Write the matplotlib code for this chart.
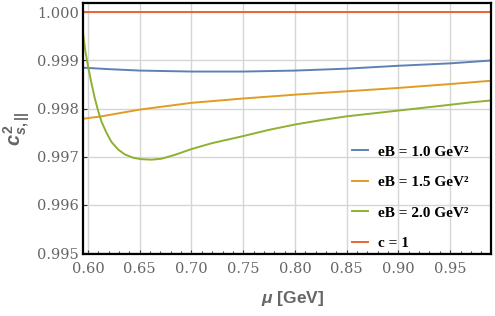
import matplotlib
matplotlib.use("Agg")
import matplotlib.pyplot as plt
from matplotlib.ticker import MultipleLocator, FormatStrFormatter

# values
mu_blue = [0.5953, 0.62, 0.65, 0.70, 0.75, 0.80, 0.85, 0.90, 0.95, 0.99]
cs_blue = [0.99885, 0.99882, 0.99879, 0.99877, 0.99877, 0.99879, 0.99883, 0.99889, 0.99894, 0.99900]

mu_orange = [0.5953, 0.613, 0.65, 0.70, 0.75, 0.80, 0.85, 0.90, 0.95, 0.99]
cs_orange = [0.99779, 0.99784, 0.99798, 0.99812, 0.99821, 0.99829, 0.99836, 0.99843, 0.99851, 0.99858]

mu_green = [0.5953, 0.5975, 0.6001, 0.6033, 0.6065, 0.6098, 0.6130, 0.6178, 0.6226,
            0.6291, 0.6355, 0.6436, 0.6516, 0.6613, 0.6710, 0.6839, 0.70, 0.7193,
            0.75, 0.775, 0.80, 0.825, 0.85, 0.875, 0.90, 0.925, 0.95, 0.97, 0.99]
cs_green = [0.99955, 0.99918, 0.99887, 0.99853, 0.99822, 0.99795, 0.99773, 0.99750, 0.99731,
            0.99715, 0.99705, 0.99698, 0.99695, 0.99694, 0.99696, 0.99704, 0.99716, 0.99728,
            0.99743, 0.99756, 0.99767, 0.99776, 0.99784, 0.99790, 0.99796, 0.99802, 0.99808, 0.99813, 0.99817]

mu_c1 = [0.59, 0.99]
cs_c1 = [1.0, 1.0]

labels = ["eB = 1.0 GeV²", "eB = 1.5 GeV²", "eB = 2.0 GeV²", "c = 1"]
colors = ["#5e81b5", "#e19c24", "#8fb032", "#eb6235"]

plt.rcParams["font.family"] = "DejaVu Serif"
plt.rcParams["mathtext.fontset"] = "custom"
plt.rcParams["mathtext.it"] = "Liberation Sans:bold:italic"
plt.rcParams["mathtext.rm"] = "Liberation Sans:bold"
plt.rcParams["mathtext.bf"] = "Liberation Sans:bold"

fig = plt.figure(figsize=(4.95, 3.16), dpi=100)
ax = fig.add_axes([0.168, 0.196, 0.824, 0.794])

series = [(mu_blue, cs_blue), (mu_orange, cs_orange), (mu_green, cs_green), (mu_c1, cs_c1)]
for (x, y), c, lab in zip(series, colors, labels):
    ax.plot(x, y, color=c, lw=1.4, label=lab, solid_joinstyle="round")

ax.set_xlim(0.5953, 0.9895)
ax.set_ylim(0.99498, 1.00019)

ax.xaxis.set_major_locator(MultipleLocator(0.05))
ax.xaxis.set_minor_locator(MultipleLocator(0.01))
ax.yaxis.set_major_locator(MultipleLocator(0.001))
ax.xaxis.set_major_formatter(FormatStrFormatter("%.2f"))
ax.yaxis.set_major_formatter(FormatStrFormatter("%.3f"))

ax.grid(True, which="major", color="#d6d6d6", lw=1.0)
ax.tick_params(which="both", direction="in", colors="#333333", labelcolor="#666666",
               labelsize=10.5, width=0.8)
ax.tick_params(which="major", length=3)
ax.tick_params(which="minor", length=2)
ax.tick_params(axis="x", pad=6)
ax.tick_params(axis="y", pad=3)

for s in ax.spines.values():
    s.set_color("black")
    s.set_linewidth(1.6)

ax.set_xlabel(r"$\mu$ [GeV]", fontsize=12.5, fontweight="bold", family="Liberation Sans",
              color="#666666", labelpad=5)
ax.xaxis.set_label_coords(0.513, -0.14)
ax.set_ylabel(r"$c_{s,||}^{2}$", fontsize=14.5, color="#666666", labelpad=4)

leg = ax.legend(loc="lower left", bbox_to_anchor=(0.658, 0.016), frameon=False,
                handlelength=1.1, handletextpad=0.6, labelspacing=1.1, borderpad=0,
                borderaxespad=0,
                prop={"family": "Liberation Serif", "weight": "bold", "size": 11})

fig.savefig("out.png", dpi=100)
